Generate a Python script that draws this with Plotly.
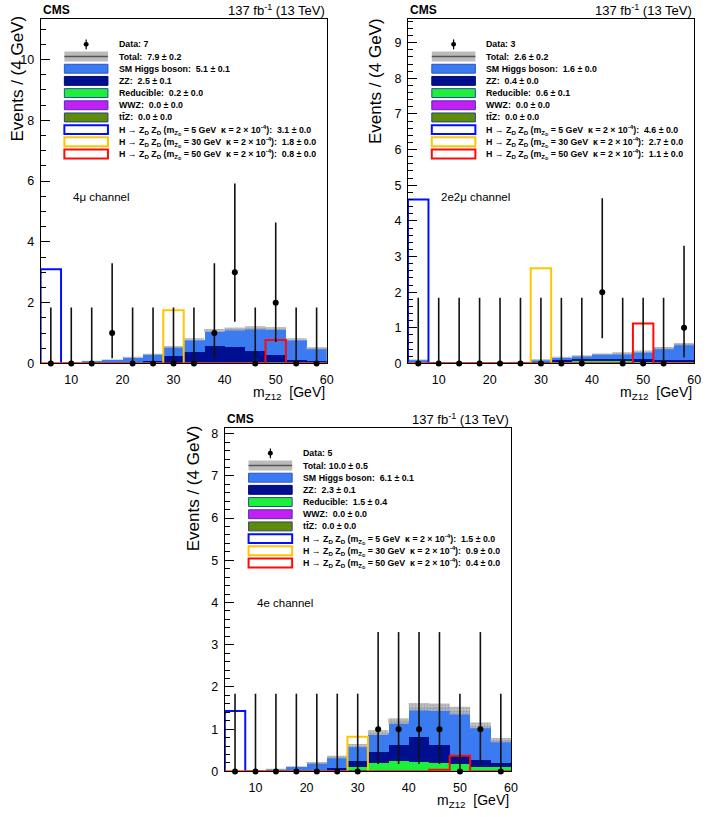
import plotly.graph_objects as go

# ---------------- data ----------------
bin_edges = [4, 8, 12, 16, 20, 24, 28, 32, 36, 40, 44, 48, 52, 56, 60]
bin_centers = [6, 10, 14, 18, 22, 26, 30, 34, 38, 42, 46, 50, 54, 58]
x_ticks = [10, 20, 30, 40, 50, 60]

# 4mu channel
mu4_data = [0, 0, 0, 1, 0, 0, 0, 0, 1, 3, 0, 2, 0, 0]
mu4_higgs = [0.01, 0.01, 0.07, 0.10, 0.17, 0.22, 0.30, 0.40, 0.50, 0.60, 0.77, 0.88, 0.67, 0.42]
mu4_zz = [0.0, 0.0, 0.01, 0.02, 0.03, 0.07, 0.22, 0.37, 0.55, 0.50, 0.37, 0.24, 0.10, 0.07]
mu4_red = [0.0, 0.0, 0.0, 0.0, 0.0, 0.01, 0.02, 0.02, 0.03, 0.03, 0.03, 0.03, 0.02, 0.01]
mu4_wwz = [0.0, 0.0, 0.0, 0.0, 0.0, 0.0, 0.0, 0.0, 0.0, 0.0, 0.0, 0.0, 0.0, 0.0]
mu4_ttz = [0.0, 0.0, 0.0, 0.0, 0.0, 0.0, 0.0, 0.0, 0.0, 0.0, 0.0, 0.0, 0.0, 0.0]
mu4_unc = [0.0, 0.0, 0.01, 0.01, 0.02, 0.02, 0.03, 0.04, 0.05, 0.05, 0.05, 0.05, 0.04, 0.03]
mu4_sig5 = [3.1, 0, 0, 0, 0, 0, 0, 0, 0, 0, 0, 0, 0, 0]
mu4_sig30 = [0, 0, 0, 0, 0, 0, 1.75, 0, 0, 0, 0, 0, 0, 0]
mu4_sig50 = [0, 0, 0, 0, 0, 0, 0, 0, 0, 0, 0, 0.77, 0, 0]
mu4_legend = ["Data: 7", "Total:  7.9 ± 0.2", "SM Higgs boson:  5.1 ± 0.1", "ZZ:  2.5 ± 0.1",
              "Reducible:  0.2 ± 0.0", "WWZ:  0.0 ± 0.0", "tt\u0304Z:  0.0 ± 0.0",
              "3.1 ± 0.0", "1.8 ± 0.0", "0.8 ± 0.0"]

# 2e2mu channel
e2mu2_data = [0, 0, 0, 0, 0, 0, 0, 0, 0, 2, 0, 0, 0, 1]
e2mu2_higgs = [0.07, 0.01, 0.02, 0.02, 0.01, 0.02, 0.03, 0.07, 0.09, 0.13, 0.15, 0.21, 0.32, 0.44]
e2mu2_zz = [0.02, 0.01, 0.01, 0.01, 0.01, 0.01, 0.02, 0.03, 0.04, 0.05, 0.05, 0.05, 0.04, 0.04]
e2mu2_red = [0.01, 0.0, 0.0, 0.0, 0.0, 0.01, 0.05, 0.07, 0.08, 0.08, 0.08, 0.07, 0.07, 0.06]
e2mu2_wwz = [0.0, 0.0, 0.0, 0.0, 0.0, 0.0, 0.0, 0.0, 0.0, 0.0, 0.0, 0.0, 0.0, 0.0]
e2mu2_ttz = [0.0, 0.0, 0.0, 0.0, 0.0, 0.0, 0.0, 0.0, 0.0, 0.0, 0.0, 0.0, 0.0, 0.0]
e2mu2_unc = [0.01, 0.0, 0.01, 0.01, 0.01, 0.01, 0.02, 0.02, 0.02, 0.02, 0.03, 0.03, 0.03, 0.03]
e2mu2_sig5 = [4.6, 0, 0, 0, 0, 0, 0, 0, 0, 0, 0, 0, 0, 0]
e2mu2_sig30 = [0, 0, 0, 0, 0, 0, 2.67, 0, 0, 0, 0, 0, 0, 0]
e2mu2_sig50 = [0, 0, 0, 0, 0, 0, 0, 0, 0, 0, 0, 1.12, 0, 0]
e2mu2_legend = ["Data: 3", "Total:  2.6 ± 0.2", "SM Higgs boson:  1.6 ± 0.0", "ZZ:  0.4 ± 0.0",
                "Reducible:  0.6 ± 0.1", "WWZ:  0.0 ± 0.0", "tt\u0304Z:  0.0 ± 0.0",
                "4.6 ± 0.0", "2.7 ± 0.0", "1.1 ± 0.0"]

# 4e channel
e4_data = [0, 0, 0, 0, 0, 0, 0, 1, 1, 1, 1, 0, 1, 0]
e4_higgs = [0.01, 0.01, 0.05, 0.11, 0.18, 0.26, 0.35, 0.46, 0.55, 0.72, 0.90, 1.08, 0.81, 0.54]
e4_zz = [0.0, 0.0, 0.0, 0.01, 0.01, 0.06, 0.15, 0.26, 0.39, 0.58, 0.42, 0.18, 0.16, 0.09]
e4_red = [0.0, 0.0, 0.0, 0.0, 0.01, 0.02, 0.11, 0.20, 0.25, 0.23, 0.20, 0.18, 0.12, 0.11]
e4_wwz = [0.0, 0.0, 0.0, 0.0, 0.0, 0.0, 0.0, 0.0, 0.0, 0.0, 0.0, 0.0, 0.0, 0.0]
e4_ttz = [0.0, 0.0, 0.0, 0.0, 0.0, 0.0, 0.0, 0.0, 0.0, 0.0, 0.0, 0.0, 0.0, 0.0]
e4_unc = [0.0, 0.0, 0.01, 0.01, 0.02, 0.03, 0.04, 0.06, 0.07, 0.09, 0.09, 0.09, 0.07, 0.05]
e4_sig5 = [1.43, 0, 0, 0, 0, 0, 0, 0, 0, 0, 0, 0, 0, 0]
e4_sig30 = [0, 0, 0, 0, 0, 0, 0.82, 0, 0, 0, 0, 0, 0, 0]
e4_sig50 = [0, 0, 0, 0, 0, 0, 0, 0, 0, 0, 0.04, 0.37, 0, 0]
e4_legend = ["Data: 5", "Total: 10.0 ± 0.5", "SM Higgs boson:  6.1 ± 0.1", "ZZ:  2.3 ± 0.1",
             "Reducible:  1.5 ± 0.4", "WWZ:  0.0 ± 0.0", "tt\u0304Z:  0.0 ± 0.0",
             "1.5 ± 0.0", "0.9 ± 0.0", "0.4 ± 0.0"]

signal_masses = ["5", "30", "50"]

# Garwood (Poisson 68%) interval bounds for small counts
poisson_lo = {0: 0.0, 1: 0.173, 2: 0.708, 3: 1.367}
poisson_hi = {0: 1.841, 1: 3.300, 2: 4.638, 3: 5.918}

# ---------------- styles ----------------
W, H = 727, 817
C_HIGGS = "#3b7bf2"
C_ZZ = "#000f90"
C_RED = "#1cf03a"
C_WWZ = "#c61cf5"
C_TTZ = "#5e8c08"
C_S5 = "#0010ff"
C_S30 = "#ffc600"
C_S50 = "#ff0a0a"
FONT = "Liberation Sans, Arial, sans-serif"
LEG_FS = 8.8

panels = [
    dict(ax="", data=mu4_data, higgs=mu4_higgs, zz=mu4_zz, red=mu4_red, wwz=mu4_wwz, ttz=mu4_ttz,
         unc=mu4_unc, s5=mu4_sig5, s30=mu4_sig30, s50=mu4_sig50, leg=mu4_legend,
         frame=(41, 330, 18, 366), ymax=11.34, dtick=2, minor=0.5, chan="4μ channel",
         ytitle=(17.5, 78), chan_off=(31, 180)),
    dict(ax="2", data=e2mu2_data, higgs=e2mu2_higgs, zz=e2mu2_zz, red=e2mu2_red, wwz=e2mu2_wwz,
         ttz=e2mu2_ttz, unc=e2mu2_unc, s5=e2mu2_sig5, s30=e2mu2_sig30, s50=e2mu2_sig50,
         leg=e2mu2_legend, frame=(412, 701, 18, 366), ymax=9.67, dtick=1, minor=0.2,
         chan="2e2μ channel", ytitle=(378.5, 81), chan_off=(31, 180)),
    dict(ax="3", data=e4_data, higgs=e4_higgs, zz=e4_zz, red=e4_red, wwz=e4_wwz, ttz=e4_ttz,
         unc=e4_unc, s5=e4_sig5, s30=e4_sig30, s50=e4_sig50, leg=e4_legend,
         frame=(227, 516, 431, 778), ymax=8.14, dtick=1, minor=0.2, chan="4e channel",
         ytitle=(195, 492), chan_off=(30, 177)),
]


def px(x):
    return x / W


def py(y):
    return 1 - y / H


fig = go.Figure()
shapes = []
annotations = []
layout_axes = {}

for p in panels:
    xa = "x" + p["ax"]
    ya = "y" + p["ax"]
    x0, x1, y0, y1 = p["frame"]

    stack = [("ttZ", p["ttz"], C_TTZ), ("WWZ", p["wwz"], C_WWZ), ("Reducible", p["red"], C_RED),
             ("ZZ", p["zz"], C_ZZ), ("SM Higgs", p["higgs"], C_HIGGS)]
    for name, vals, col in stack:
        fig.add_trace(go.Bar(x=bin_centers, y=vals, width=[4] * len(bin_centers), marker_color=col,
                             marker_line_width=0, name=name, showlegend=False, xaxis=xa, yaxis=ya))

    total = [sum(v) for v in zip(p["ttz"], p["wwz"], p["red"], p["zz"], p["higgs"])]
    lo = [t - u for t, u in zip(total, p["unc"])]
    hi = [t + u for t, u in zip(total, p["unc"])]
    fig.add_trace(go.Scatter(x=bin_edges, y=lo + [lo[-1]], mode="lines", line_shape="hv",
                             line=dict(width=0, color="rgba(0,0,0,0)"), showlegend=False,
                             hoverinfo="skip", xaxis=xa, yaxis=ya))
    fig.add_trace(go.Scatter(x=bin_edges, y=hi + [hi[-1]], mode="lines", line_shape="hv",
                             line=dict(width=0, color="rgba(0,0,0,0)"), fill="tonexty",
                             fillcolor="rgba(165,165,165,0.8)",
                             fillpattern=dict(shape=".", fgcolor="#7a7a7a", bgcolor="rgba(195,195,195,0.85)",
                                              size=3, solidity=0.45),
                             showlegend=False, hoverinfo="skip", xaxis=xa, yaxis=ya))

    for vals, col in [(p["s5"], C_S5), (p["s30"], C_S30), (p["s50"], C_S50)]:
        xs = [bin_edges[0]] + bin_edges
        ys = [0] + list(vals) + [0]
        fig.add_trace(go.Scatter(x=xs, y=ys, mode="lines", line_shape="hv",
                                 line=dict(color=col, width=2), showlegend=False,
                                 xaxis=xa, yaxis=ya))

    up = [poisson_hi[n] - n for n in p["data"]]
    dn = [n - poisson_lo[n] for n in p["data"]]
    fig.add_trace(go.Scatter(x=bin_centers, y=p["data"], mode="markers",
                             marker=dict(color="black", size=6),
                             error_y=dict(type="data", symmetric=False, array=up, arrayminus=dn,
                                          color="#111111", thickness=1.6, width=0),
                             cliponaxis=False, showlegend=False, xaxis=xa, yaxis=ya))

    axis_common = dict(showline=True, mirror=True, linecolor="black", linewidth=1,
                       showgrid=False, zeroline=False, tickfont=dict(family=FONT, size=12.5, color="black"))
    layout_axes["xaxis" + p["ax"]] = dict(domain=[px(x0), px(x1)], range=[4, 60], tickvals=x_ticks,
                                          ticks="", anchor=ya, ticklabelstandoff=5, **axis_common)
    layout_axes["yaxis" + p["ax"]] = dict(domain=[py(y1), py(y0)], range=[0, p["ymax"]],
                                          dtick=p["dtick"], tick0=0, ticks="inside", ticklen=9,
                                          tickcolor="black",
                                          minor=dict(dtick=p["minor"], ticks="inside", ticklen=5,
                                                     tickcolor="black"),
                                          anchor=xa, ticklabelstandoff=3, **axis_common)

    # header texts
    annotations.append(dict(x=px(x0), y=py(y0 - 9), xref="paper", yref="paper", xanchor="left",
                            yanchor="middle", showarrow=False, text="<b>CMS</b>",
                            font=dict(family=FONT, size=12, color="black")))
    annotations.append(dict(x=px(x1), y=py(y0 - 9), xref="paper", yref="paper", xanchor="right",
                            yanchor="middle", showarrow=False, text="137 fb<sup>-1</sup> (13 TeV)",
                            font=dict(family=FONT, size=13, color="black")))
    # axis titles
    annotations.append(dict(x=px(x1), y=py(y1 + 30), xref="paper", yref="paper", xanchor="right",
                            yanchor="middle", showarrow=False, text="m<sub>Z12</sub>  [GeV]",
                            font=dict(family=FONT, size=14, color="black")))
    annotations.append(dict(x=px(p["ytitle"][0]), y=py(p["ytitle"][1]), xref="paper", yref="paper",
                            xanchor="center", yanchor="middle", showarrow=False, textangle=-90,
                            text="Events / (4 GeV)", font=dict(family=FONT, size=17, color="black")))
    # channel label
    annotations.append(dict(x=px(x0 + p["chan_off"][0]), y=py(y0 + p["chan_off"][1]), xref="paper",
                            yref="paper", xanchor="left", yanchor="middle", showarrow=False,
                            text=p["chan"], font=dict(family=FONT, size=11.5, color="black")))

    # legend
    bx0, bx1 = x0 + 24, x0 + 68
    tx = x0 + 77
    rows = [y0 + 25.8 + 12.3 * i for i in range(10)]
    cx = (bx0 + bx1) / 2
    shapes.append(dict(type="line", xref="paper", yref="paper", x0=px(cx), x1=px(cx),
                       y0=py(rows[0] - 5), y1=py(rows[0] + 5), line=dict(color="black", width=1.2)))
    shapes.append(dict(type="circle", xref="paper", yref="paper", x0=px(cx - 2.5), x1=px(cx + 2.5),
                       y0=py(rows[0] - 2.5), y1=py(rows[0] + 2.5), fillcolor="black",
                       line=dict(color="black", width=0)))
    shapes.append(dict(type="rect", xref="paper", yref="paper", x0=px(bx0), x1=px(bx1),
                       y0=py(rows[1] - 5), y1=py(rows[1] + 5), fillcolor="rgba(180,180,180,0.9)",
                       line=dict(width=0)))
    shapes.append(dict(type="line", xref="paper", yref="paper", x0=px(bx0), x1=px(bx1),
                       y0=py(rows[1]), y1=py(rows[1]), line=dict(color="#555555", width=1.5)))
    fills = [(C_HIGGS, "#2a55c8"), (C_ZZ, "#000a70"), (C_RED, "#2a4aa0"), (C_WWZ, "#3a3ab0"),
             (C_TTZ, "#34407a")]
    for i, (fc, lc) in enumerate(fills):
        r = rows[2 + i]
        shapes.append(dict(type="rect", xref="paper", yref="paper", x0=px(bx0), x1=px(bx1),
                           y0=py(r - 4.5), y1=py(r + 4.5), fillcolor=fc, line=dict(color=lc, width=1)))
    for i, lc in enumerate([C_S5, C_S30, C_S50]):
        r = rows[7 + i]
        shapes.append(dict(type="rect", xref="paper", yref="paper", x0=px(bx0), x1=px(bx1),
                           y0=py(r - 4.5), y1=py(r + 4.5), fillcolor="white", line=dict(color=lc, width=2)))
    texts = list(p["leg"][:7])
    for i, m in enumerate(signal_masses):
        texts.append("H → Z<sub>D</sub> Z<sub>D</sub> (m<sub>Z<sub>D</sub></sub> = " + m +
                     " GeV  κ = 2 × 10<sup>-4</sup>):  " + p["leg"][7 + i])
    for i, t in enumerate(texts):
        annotations.append(dict(x=px(tx), y=py(rows[i]), xref="paper", yref="paper", xanchor="left",
                                yanchor="middle", showarrow=False, text="<b>" + t + "</b>",
                                font=dict(family=FONT, size=LEG_FS, color="black")))

fig.update_layout(width=W, height=H, margin=dict(l=0, r=0, t=0, b=0), barmode="stack", bargap=0,
                  plot_bgcolor="white", paper_bgcolor="white", showlegend=False,
                  shapes=shapes, annotations=annotations, **layout_axes)

fig.write_html("out.html", config={"displayModeBar": False},
               post_script="document.body.style.margin='0';document.body.style.padding='0';")
